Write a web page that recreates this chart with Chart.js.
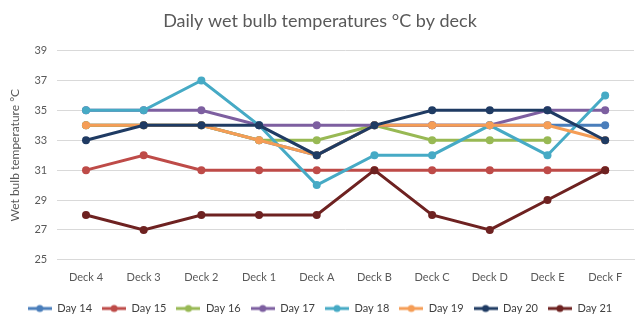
<!DOCTYPE html>
<html>
<head>
<meta charset="utf-8">
<script src="https://cdn.jsdelivr.net/npm/chart.js@4.4.1/dist/chart.umd.min.js"></script>
<style>
  html, body { margin: 0; padding: 0; background: #fff; }
  #wrap { width: 640px; height: 325px; }
</style>
</head>
<body>
<div id="wrap"><canvas id="chart"></canvas></div>
<script>
const decks = ['Deck 4', 'Deck 3', 'Deck 2', 'Deck 1', 'Deck A', 'Deck B', 'Deck C', 'Deck D', 'Deck E', 'Deck F'];
const day14 = [34, 34, 34, 33, 32, 34, 34, 34, 34, 34];
const day15 = [31, 32, 31, 31, 31, 31, 31, 31, 31, 31];
const day16 = [34, 34, 34, 33, 33, 34, 33, 33, 33, null];
const day17 = [35, 35, 35, 34, 34, 34, 34, 34, 35, 35];
const day18 = [35, 35, 37, 34, 30, 32, 32, 34, 32, 36];
const day19 = [34, 34, 34, 33, 32, 34, 34, 34, 34, 33];
const day20 = [33, 34, 34, 34, 32, 34, 35, 35, 35, 33];
const day21 = [28, 27, 28, 28, 28, 31, 28, 27, 29, 31];
const yTicks = [25, 27, 29, 31, 33, 35, 37, 39];

const series = [
    ['Day 14', day14, '#4a7ebb'],
    ['Day 15', day15, '#be4b48'],
    ['Day 16', day16, '#98b954'],
    ['Day 17', day17, '#7d5fa0'],
    ['Day 18', day18, '#46aac5'],
    ['Day 19', day19, '#f59d56'],
    ['Day 20', day20, '#1f3b63'],
    ['Day 21', day21, '#6e2221']
];

// petit marqueur de légende : trait + point
function legendMark(color) {
    const c = document.createElement('canvas');
    c.width = 24;
    c.height = 10;
    const g = c.getContext('2d');
    g.strokeStyle = color;
    g.lineWidth = 3;
    g.beginPath();
    g.moveTo(0, 5);
    g.lineTo(24, 5);
    g.stroke();
    g.fillStyle = color;
    g.beginPath();
    g.arc(12, 5, 3.5, 0, Math.PI * 2);
    g.fill();
    return c;
}

const datasets = series.map((s, i) => ({
    label: s[0],
    data: s[1],
    borderColor: s[2],
    backgroundColor: s[2],
    borderWidth: 3,
    pointRadius: 4,
    pointHoverRadius: 4,
    pointBorderWidth: 0,
    tension: 0,
    pointStyle: 'circle',
    order: series.length - i,   // la dernière série se dessine par-dessus
    legendMark: legendMark(s[2])
}));

const ctx = document.getElementById('chart').getContext('2d');
new Chart(ctx, {
    type: 'line',
    data: { labels: decks, datasets: datasets },
    options: {
        responsive: true,
        maintainAspectRatio: false,
        animation: false,
        layout: { padding: { left: 6, right: 6, top: 4, bottom: 1 } },
        plugins: {
            title: {
                display: true,
                text: 'Daily wet bulb temperatures °C by deck',
                color: '#595959',
                font: { family: 'Lato', size: 18, weight: 'normal' },
                padding: { top: 6, bottom: 19 }
            },
            legend: {
                position: 'bottom',
                labels: {
                    color: '#404040',
                    font: { family: 'Lato', size: 11 },
                    usePointStyle: true,
                    pointStyleWidth: 24,
                    padding: 10,
                    generateLabels: chart => chart.data.datasets.map((d, i) => ({
                        text: d.label,
                        fillStyle: d.borderColor,
                        strokeStyle: d.borderColor,
                        pointStyle: d.legendMark,
                        fontColor: '#404040',
                        datasetIndex: i,
                        hidden: false
                    }))
                }
            },
            tooltip: { enabled: false }
        },
        scales: {
            x: {
                offset: true,
                grid: { display: false },
                border: { display: true, color: '#d9d9d9' },
                ticks: { color: '#595959', font: { family: 'Lato', size: 11 }, padding: 3 },
                afterFit: s => { s.height += 6; }
            },
            y: {
                min: 25,
                max: 39,
                afterBuildTicks: axis => { axis.ticks = yTicks.map(v => ({ value: v })); },
                grid: { color: '#d9d9d9', drawTicks: false },
                border: { display: false },
                ticks: { color: '#595959', font: { family: 'Lato', size: 11 }, padding: 10 },
                title: {
                    display: true,
                    text: 'Wet bulb temperature °C',
                    color: '#595959',
                    font: { family: 'Lato', size: 12 },
                    padding: 2
                }
            }
        }
    }
});
</script>
</body>
</html>
